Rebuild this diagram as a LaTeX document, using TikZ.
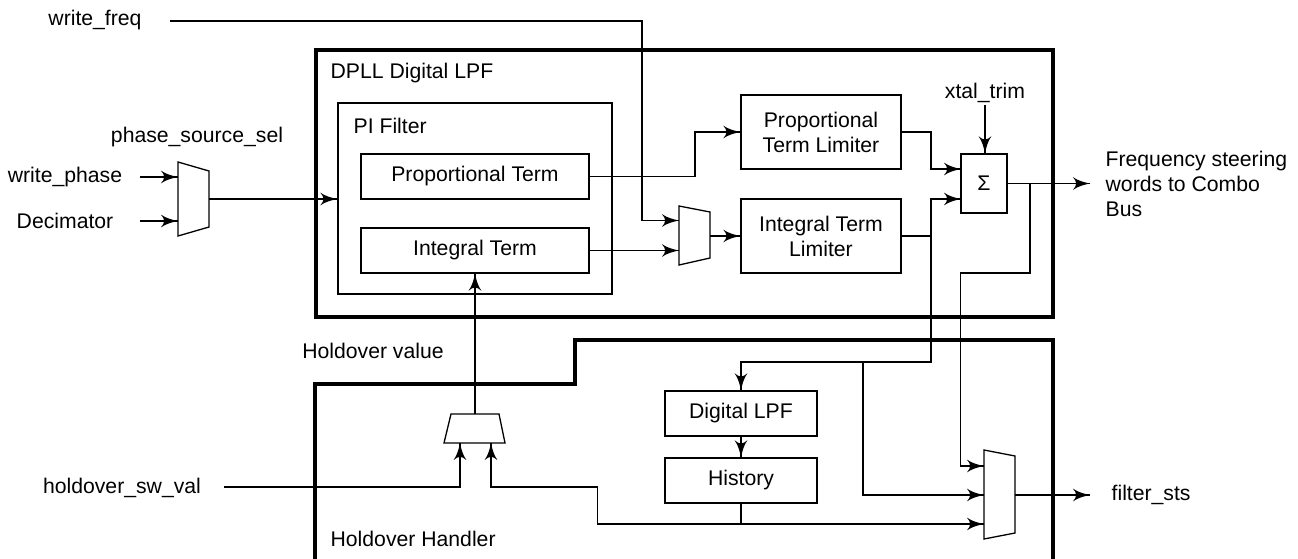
\documentclass[tikz,border=0pt]{standalone}
\usepackage{fontspec}
\setmainfont{Liberation Sans}
\usetikzlibrary{arrows}
\usetikzlibrary{decorations.markings}
\tikzset{->/.style = {decoration={markings,
                                  mark=at position 1 with {\arrow[scale=1.8]{latex'}}},
                      postaction={decorate}}}
\tikzset{blk/.style = {draw, align=center, inner sep=0}}
\tikzset{wall/.style = {line width=2.3pt}}
\tikzset{lbl/.style = {inner sep=1pt, align=left}}

\begin{document}
\begin{tikzpicture}[x=0.5pt, y=-0.5pt, line width=0.65pt, font=\fontsize{10.6}{12.5}\selectfont]
      \useasboundingbox (0,0) rectangle (1298,558);

      \node [wall, draw, minimum width=368.5pt, minimum height=133.5pt] (dpll) at (684.5,183.5) {};
      \draw [wall] (315,562) -- (315,384) -- (575,384) -- (575,340) -- (1053,340) -- (1053,562);
      \node [lbl, anchor=west] (dplllbl) at (328,73) {DPLL Digital LPF};
      \node [lbl, anchor=west] (hhlbl) at (328,539) {Holdover Handler};

      \node [blk, minimum width=137pt, minimum height=95.5pt] (pi) at (475,198.5) {};
      \node [lbl, anchor=west] (pilbl) at (351,126) {PI Filter};
      \node [blk, minimum width=114pt, minimum height=22.5pt] (prop) at (475,176.5) {Proportional Term};
      \node [blk, minimum width=114pt, minimum height=22.5pt] (integ) at (475,250.5) {Integral Term};
      \node [blk, minimum width=80pt, minimum height=37pt] (plim) at (821,132) {Proportional\\Term Limiter};
      \node [blk, minimum width=80pt, minimum height=37pt] (ilim) at (821,236) {Integral Term\\Limiter};
      \node [blk, minimum width=23pt, minimum height=29.5pt] (sum) at (984,183.5) {Σ};
      \node [blk, minimum width=76pt, minimum height=22.5pt] (dlpf) at (741,413.5) {Digital LPF};
      \node [blk, minimum width=76pt, minimum height=22.5pt] (hist) at (741,480.5) {History};

      \node [lbl] (wfreq) at (95,20) {write\_freq};
      \node [lbl] (wphase) at (65,177) {write\_phase};
      \node [lbl] (deci) at (65,221) {Decimator};
      \node [lbl] (pss) at (197,137) {phase\_source\_sel};
      \node [lbl] (xtal) at (985,93) {xtal\_trim};
      \node [lbl, anchor=west] (freq) at (1103,184) {Frequency steering\\words to Combo\\Bus};
      \node [lbl] (hval) at (373,351) {Holdover value};
      \node [lbl] (hsw) at (122,488) {holdover\_sw\_val};
      \node [lbl, anchor=west] (fsts) at (1109,495) {filter\_sts};

      \draw (178,162) -- (209,171) -- (209,227) -- (178,236) -- cycle;
      \draw (679,206) -- (710,212) -- (710,258) -- (679,265) -- cycle;
      \draw (984,450) -- (1015,456) -- (1015,533) -- (984,539) -- cycle;
      \draw (451,414) -- (499,414) -- (505,443) -- (444,443) -- cycle;

      \coordinate (m1a) at (178,177);
      \coordinate (m1b) at (178,221);
      \coordinate (m1o) at (209,199);
      \coordinate (m2a) at (679,220.5);
      \coordinate (m2b) at (679,250.5);
      \coordinate (m2o) at (710,236);
      \coordinate (m3a) at (984,466);
      \coordinate (m3b) at (984,495);
      \coordinate (m3c) at (984,524);
      \coordinate (m3o) at (1015,495);
      \coordinate (m4a) at (460,443);
      \coordinate (m4b) at (491,443);
      \coordinate (m4o) at (475,414);
      \coordinate (s1) at (961,169);
      \coordinate (s2) at (961,199);
      \coordinate (wfin) at (170,21);
      \coordinate (wpin) at (140,177);
      \coordinate (dcin) at (140,221);
      \coordinate (hswin) at (224,487);
      \coordinate (fout) at (1090,183.5);
      \coordinate (stsout) at (1090,495);

      \draw [->] (wfin) -- (642,21) |- (m2a);
      \draw [->] (wpin) -- (m1a);
      \draw [->] (dcin) -- (m1b);
      \draw [->] (m1o) -- (m1o -| pi.west);
      \draw [->] (prop.east) -- (695,176.5) |- (plim.west);
      \draw [->] (integ.east) -- (m2b);
      \draw [->] (m2o) -- (m2o -| ilim.west);
      \draw [->] (plim.east) -- (931,132) |- (s1);
      \draw [->] (ilim.east) -- (931,236) |- (s2);
      \draw [->] (931,236) -- (931,362) -| (dlpf.north);
      \draw [->] (863,362) |- (m3b);
      \draw [->] (xtal.south) -- (xtal.south |- sum.north);
      \draw [->] (sum.east) -- (fout);
      \draw [->] (1030,183.5) |- (960.5,273) |- (m3a);
      \draw [->] (m3o) -- (stsout);
      \draw [->] (m4o) -- (integ.south);
      \draw [->] (hswin) -| (m4a);
      \draw [->] (hist.south) |- (597.5,524) -- (597.5,487) -| (m4b);
      \draw [->] (741,524) -- (m3c);
      \draw [->] (dlpf.south) -- (hist.north);
    \end{tikzpicture}
\end{document}
